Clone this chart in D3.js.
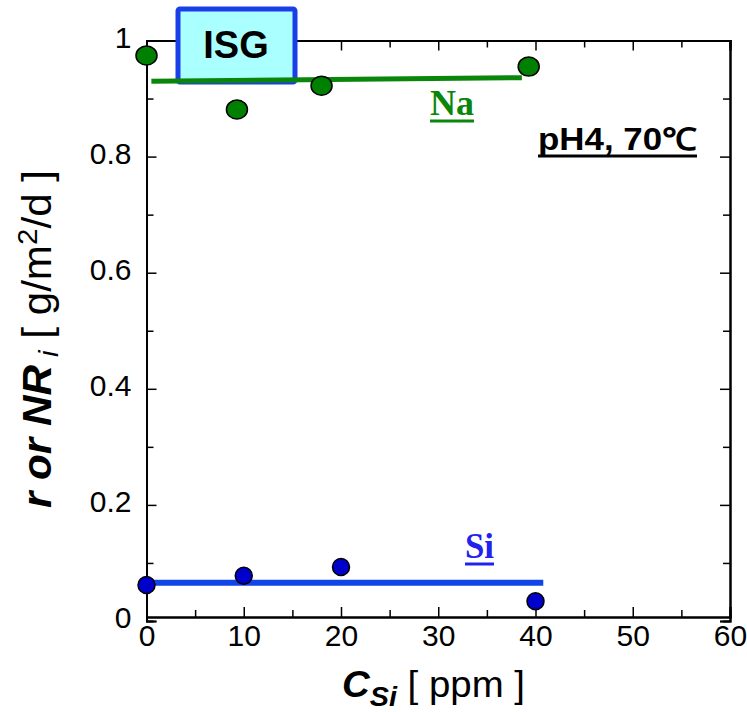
<!DOCTYPE html>
<html>
<head>
<meta charset="utf-8">
<script src="https://cdn.jsdelivr.net/npm/d3@7"></script>
<style>
  html, body { margin: 0; padding: 0; background: #fff; }
  svg { display: block; }
</style>
</head>
<body>
<svg id="chart" width="747" height="712"></svg>
<script>
// Si concentration in solution [ppm] and normalized release rates
const naConc = [0, 9.3, 18.0, 39.3];
const naRate = [0.974, 0.881, 0.922, 0.955];
const siConc = [0, 10, 20, 40];
const siRate = [0.062, 0.078, 0.093, 0.034];

// average-rate lines
const naFitConc = [0.5, 38.6];
const naFitRate = [0.930, 0.936];
const siFitConc = [0, 40.8];
const siFitRate = [0.066, 0.066];

const xMajor = [0, 10, 20, 30, 40, 50, 60];
const xMinor = [5, 15, 25, 35, 45, 55];
const yMajor = [0, 0.2, 0.4, 0.6, 0.8, 1];
const yMinor = [0.1, 0.3, 0.5, 0.7, 0.9];
const yTickText = ["0", "0.2", "0.4", "0.6", "0.8", "1"];

const SANS = "'Liberation Sans', Arial, Helvetica, sans-serif";
const SERIF = "'Liberation Serif', 'Times New Roman', Times, serif";

const svg = d3.select("#chart").style("font-family", SANS);
const L = 146.5, R = 730, T = 40.5, B = 617, Y0 = 621;

const x = d3.scaleLinear().domain([0, 60]).range([L, R]);
const y = d3.scaleLinear().domain([0, 1]).range([Y0, T]);

const axisColor = "#000";
const tickSize = 10, minorSize = 7;

// bottom frame with labels, ticks pointing inward
const gx = svg.append("g").attr("transform", `translate(0,${B})`)
  .call(d3.axisBottom(x).tickValues(xMajor).tickSize(-tickSize).tickFormat(d3.format("d")));
gx.append("g").call(d3.axisBottom(x).tickValues(xMinor).tickSize(-minorSize).tickFormat(""));
// top frame
const gxt = svg.append("g").attr("transform", `translate(0,${T})`)
  .call(d3.axisTop(x).tickValues(xMajor).tickSize(-tickSize).tickFormat(""));
gxt.append("g").call(d3.axisTop(x).tickValues(xMinor).tickSize(-minorSize).tickFormat(""));
// left axis with labels
const gy = svg.append("g").attr("transform", `translate(${L},0)`)
  .call(d3.axisLeft(y).tickValues(yMajor).tickSize(-tickSize).tickPadding(15)
    .tickFormat((d, i) => yTickText[i]));
gy.append("g").call(d3.axisLeft(y).tickValues(yMinor).tickSize(-minorSize).tickFormat(""));
// right frame
const gyr = svg.append("g").attr("transform", `translate(${R},0)`)
  .call(d3.axisRight(y).tickValues(yMajor).tickSize(-tickSize).tickFormat(""));
gyr.append("g").call(d3.axisRight(y).tickValues(yMinor).tickSize(-minorSize).tickFormat(""));

svg.selectAll(".domain").attr("stroke", axisColor).attr("stroke-width", 2);
svg.selectAll(".tick line").attr("stroke", axisColor).attr("stroke-width", 1.5);
svg.selectAll(".tick text").style("font-family", SANS);
gx.selectAll(".tick text").attr("font-size", 30).attr("fill", "#000")
  .attr("y", 8).attr("dy", "0.71em");
gy.selectAll(".tick text").attr("font-size", 30).attr("fill", "#000").attr("dy", "0.22em");

// ISG box
svg.append("rect")
  .attr("x", 178).attr("y", 9).attr("width", 117).attr("height", 73)
  .attr("rx", 2)
  .attr("fill", "#aaffff").attr("stroke", "#1a3fe8").attr("stroke-width", 5);
svg.append("text").attr("x", 236).attr("y", 58).attr("text-anchor", "middle")
  .attr("font-size", 38).attr("font-weight", "bold").attr("fill", "#000").text("ISG");

// fit lines
const line = d3.line().x(d => x(d[0])).y(d => y(d[1]));
svg.append("path").datum(d3.zip(naFitConc, naFitRate)).attr("d", line)
  .attr("stroke", "#0a870a").attr("stroke-width", 5).attr("fill", "none");
svg.append("path").datum(d3.zip(siFitConc, siFitRate)).attr("d", line)
  .attr("stroke", "#1045e6").attr("stroke-width", 6).attr("fill", "none");

// data points
svg.append("g").selectAll("ellipse").data(d3.zip(naConc, naRate)).join("ellipse")
  .attr("cx", d => x(d[0])).attr("cy", d => y(d[1]))
  .attr("rx", 10.5).attr("ry", 9.5)
  .attr("fill", "#008000").attr("stroke", "#000").attr("stroke-width", 1.5);
svg.append("g").selectAll("ellipse").data(d3.zip(siConc, siRate)).join("ellipse")
  .attr("cx", d => x(d[0])).attr("cy", d => y(d[1]))
  .attr("rx", 8.5).attr("ry", 8.5)
  .attr("fill", "#0000cc").attr("stroke", "#000").attr("stroke-width", 1.5);

// series labels (underlined)
function underlinedLabel(tx, ty, str, color, font, size, weight, len) {
  const t = svg.append("text").attr("x", tx).attr("y", ty)
    .style("font-family", font).attr("font-size", size).attr("font-weight", weight)
    .attr("fill", color).text(str);
  if (len) t.attr("textLength", len).attr("lengthAdjust", "spacingAndGlyphs");
  const w = len || t.node().getComputedTextLength();
  svg.append("line").attr("x1", tx).attr("x2", tx + w)
    .attr("y1", ty + 6).attr("y2", ty + 6)
    .attr("stroke", color).attr("stroke-width", 3);
}
underlinedLabel(430, 115, "Na", "#0a870a", SERIF, 36, "bold", 44);
underlinedLabel(465, 558, "Si", "#2222ee", SERIF, 35, "bold", 29);
underlinedLabel(538, 150, "pH4, 70℃", "#000", SANS, 31, "bold", 159);

// axis titles
const xt = svg.append("text").attr("x", 342).attr("y", 697)
  .attr("font-size", 36).attr("fill", "#000")
  .attr("textLength", 183).attr("lengthAdjust", "spacingAndGlyphs");
xt.append("tspan").attr("font-weight", "bold").attr("font-style", "italic").text("C");
xt.append("tspan").attr("font-weight", "bold").attr("font-style", "italic")
  .attr("font-size", 27).attr("dy", 9).text("Si");
xt.append("tspan").attr("dy", -9).text(" [ ppm ]");

const yt = svg.append("text")
  .attr("transform", "translate(51,508) rotate(-90)")
  .attr("font-size", 40).attr("fill", "#000")
  .attr("textLength", 338).attr("lengthAdjust", "spacingAndGlyphs");
yt.append("tspan").attr("font-weight", "bold").attr("font-style", "italic").text("r or NR");
yt.append("tspan").attr("font-style", "italic").attr("font-size", 28).attr("dy", 7).text(" i");
yt.append("tspan").attr("dy", -7).text(" [ g/m");
yt.append("tspan").attr("font-size", 28).attr("dy", -14).text("2");
yt.append("tspan").attr("dy", 14).text("/d ]");
</script>
</body>
</html>
